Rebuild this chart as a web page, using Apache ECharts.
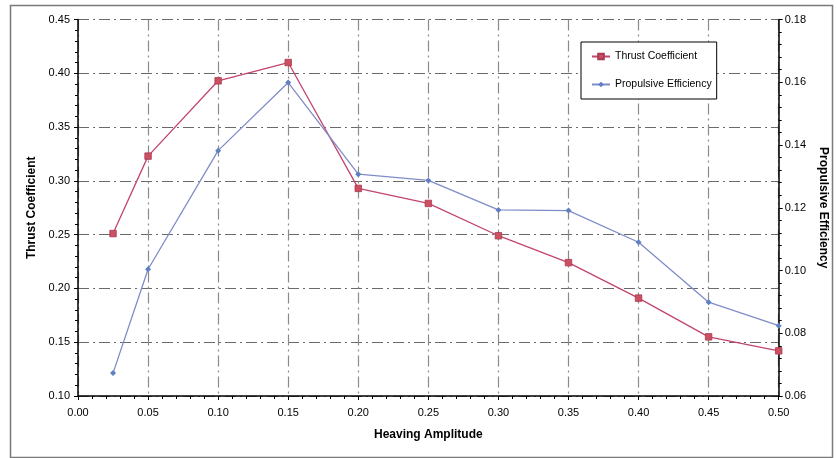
<!DOCTYPE html>
<html>
<head>
<meta charset="utf-8">
<script src="https://cdn.jsdelivr.net/npm/echarts@6/dist/echarts.min.js"></script>
<style>
html,body{margin:0;padding:0;background:#fff;}
#c{width:837px;height:458px;}
</style>
</head>
<body>
<div id="c"></div>
<script>
var heavingAmplitude = [0.025, 0.05, 0.10, 0.15, 0.20, 0.25, 0.30, 0.35, 0.40, 0.45, 0.50];
var thrustCoefficient = [0.251, 0.323, 0.393, 0.410, 0.293, 0.279, 0.249, 0.224, 0.191, 0.155, 0.142];
var propulsiveEfficiency = [0.0673, 0.1004, 0.1382, 0.1599, 0.1307, 0.1287, 0.1193, 0.1191, 0.1090, 0.0899, 0.0824];
var seriesNames = ['Thrust Coefficient', 'Propulsive Efficiency'];

function pairs(xs, ys){ return xs.map(function(x,i){ return [x, ys[i]]; }); }

var FONT = 'Liberation Sans, Arial, sans-serif';
var gridDash = { type: [11, 4, 2, 4], color: '#6a6a6a', width: 1.2 };

var chart = echarts.init(document.getElementById('c'), null, {renderer: 'canvas'});
chart.setOption({
  animation: false,
  backgroundColor: '#fff',
  textStyle: { fontFamily: FONT, color: '#000' },
  graphic: [{
    type: 'rect', left: 8, top: 3, silent: true,
    shape: { width: 822, height: 452 },
    style: { fill: 'none', stroke: '#7a7a7a', lineWidth: 1.5 }
  }],
  grid: { left: 78, right: 58, top: 19.5, bottom: 62, containLabel: false },
  legend: {
    orient: 'vertical', left: 581, top: 42,
    data: seriesNames,
    backgroundColor: '#fff', borderColor: '#000', borderWidth: 1,
    padding: [9, 5, 9, 10], itemGap: 17, itemWidth: 18, itemHeight: 7,
    textStyle: { fontFamily: FONT, fontSize: 10.5, color: '#000' }
  },
  xAxis: {
    type: 'value', min: 0, max: 0.5, interval: 0.05,
    name: 'Heaving Amplitude', nameLocation: 'middle', nameGap: 33,
    nameTextStyle: { fontFamily: FONT, fontWeight: 'bold', fontSize: 12, color: '#000' },
    axisLine: { show: true, onZero: false, lineStyle: { color: '#000', width: 1.5 } },
    axisTick: { show: true, length: 4, lineStyle: { color: '#000' } },
    minorTick: { show: true, splitNumber: 5, length: 3, lineStyle: { color: '#000' } },
    axisLabel: { margin: 11, fontSize: 11, color: '#000', fontFamily: FONT,
      formatter: function(v){ return v.toFixed(2); } },
    splitLine: { show: true, lineStyle: { type: [11, 4, 2, 4], color: '#8a8a8a', width: 1.2 } }
  },
  yAxis: [{
    type: 'value', min: 0.10, max: 0.45, interval: 0.05, position: 'left',
    name: 'Thrust Coefficient', nameLocation: 'middle', nameGap: 40, nameRotate: 90,
    nameTextStyle: { fontFamily: FONT, fontWeight: 'bold', fontSize: 12, color: '#000' },
    axisLine: { show: true, lineStyle: { color: '#000', width: 1.5 } },
    axisTick: { show: true, length: 4, lineStyle: { color: '#000' } },
    minorTick: { show: true, splitNumber: 5, length: 3, lineStyle: { color: '#000' } },
    axisLabel: { margin: 8, fontSize: 11, color: '#000', fontFamily: FONT,
      formatter: function(v){ return v.toFixed(2); } },
    splitLine: { show: true, lineStyle: gridDash }
  }, {
    type: 'value', min: 0.06, max: 0.18, interval: 0.02, position: 'right',
    name: 'Propulsive Efficiency', nameLocation: 'middle', nameGap: 33, nameRotate: -90,
    nameTextStyle: { fontFamily: FONT, fontWeight: 'bold', fontSize: 12, color: '#000' },
    axisLine: { show: true, lineStyle: { color: '#000', width: 1.5 } },
    axisTick: { show: true, length: 4, lineStyle: { color: '#000' } },
    minorTick: { show: true, splitNumber: 5, length: 3, lineStyle: { color: '#000' } },
    axisLabel: { margin: 6, fontSize: 11, color: '#000', fontFamily: FONT,
      formatter: function(v){ return v.toFixed(2); } },
    splitLine: { show: false }
  }],
  series: [{
    name: seriesNames[0], type: 'line', yAxisIndex: 0,
    data: pairs(heavingAmplitude, thrustCoefficient),
    symbol: 'rect', symbolSize: 6.5,
    lineStyle: { color: '#c2456e', width: 1.3 },
    itemStyle: { color: '#cc5060', borderColor: '#a83a55', borderWidth: 0.8 }
  }, {
    name: seriesNames[1], type: 'line', yAxisIndex: 1,
    data: pairs(heavingAmplitude, propulsiveEfficiency),
    symbol: 'diamond', symbolSize: 6,
    lineStyle: { color: '#7f8cc8', width: 1.3 },
    itemStyle: { color: '#5f7fc2', borderColor: '#5f7fc2', borderWidth: 0 }
  }]
});
</script>
</body>
</html>
